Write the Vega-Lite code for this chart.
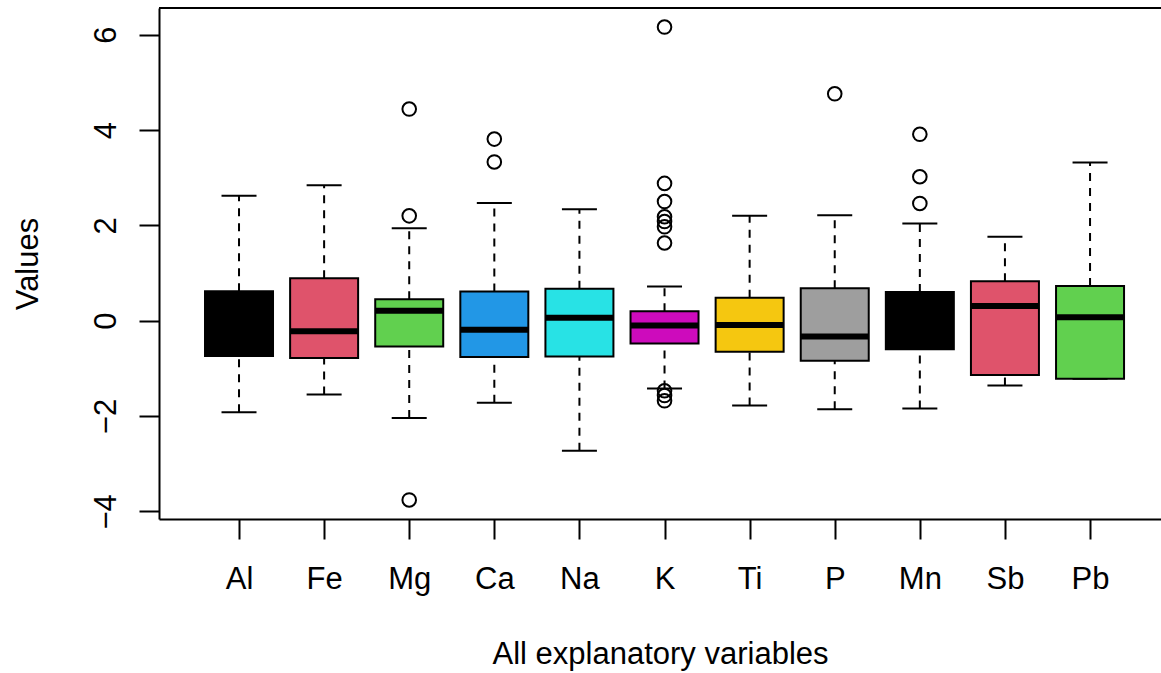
{
  "$schema": "https://vega.github.io/schema/vega-lite/v6.json",
  "autosize": "none",
  "width": 1002,
  "height": 511,
  "padding": {"left": 159, "top": 8, "right": 0, "bottom": 154},
  "background": "white",
  "config": {
    "view": {"stroke": null},
    "font": "Liberation Sans",
    "axis": {
      "labelFont": "Liberation Sans",
      "titleFont": "Liberation Sans",
      "labelFontSize": 31,
      "titleFontSize": 31,
      "titleFontWeight": "normal",
      "labelColor": "black",
      "titleColor": "black",
      "domainColor": "black",
      "tickColor": "black",
      "domainWidth": 2,
      "tickWidth": 2,
      "tickSize": 20,
      "grid": false,
      "labelFlush": false,
      "labelOverlap": false
    }
  },
  "datasets": {
    "stats": [
      {"var": "Al", "lower": -1.92, "q1": -0.74, "median": -0.05, "q3": 0.62, "upper": 2.62},
      {"var": "Fe", "lower": -1.55, "q1": -0.78, "median": -0.22, "q3": 0.89, "upper": 2.84},
      {"var": "Mg", "lower": -2.04, "q1": -0.54, "median": 0.21, "q3": 0.45, "upper": 1.94},
      {"var": "Ca", "lower": -1.72, "q1": -0.76, "median": -0.19, "q3": 0.61, "upper": 2.47},
      {"var": "Na", "lower": -2.73, "q1": -0.75, "median": 0.06, "q3": 0.67, "upper": 2.34},
      {"var": "K", "lower": -1.42, "q1": -0.48, "median": -0.10, "q3": 0.20, "upper": 0.72},
      {"var": "Ti", "lower": -1.78, "q1": -0.65, "median": -0.09, "q3": 0.48, "upper": 2.20},
      {"var": "P", "lower": -1.86, "q1": -0.84, "median": -0.33, "q3": 0.68, "upper": 2.21},
      {"var": "Mn", "lower": -1.84, "q1": -0.60, "median": 0.00, "q3": 0.60, "upper": 2.04},
      {"var": "Sb", "lower": -1.36, "q1": -1.14, "median": 0.31, "q3": 0.83, "upper": 1.76},
      {"var": "Pb", "lower": -1.22, "q1": -1.22, "median": 0.07, "q3": 0.73, "upper": 3.32}
    ],
    "outliers": [
      {"var": "Mg", "value": 4.44},
      {"var": "Mg", "value": 2.20},
      {"var": "Mg", "value": -3.76},
      {"var": "Ca", "value": 3.81},
      {"var": "Ca", "value": 3.33},
      {"var": "K", "value": 6.16},
      {"var": "K", "value": 2.88},
      {"var": "K", "value": 2.50},
      {"var": "K", "value": 2.18},
      {"var": "K", "value": 2.08},
      {"var": "K", "value": 1.97},
      {"var": "K", "value": 1.63},
      {"var": "K", "value": -1.47},
      {"var": "K", "value": -1.57},
      {"var": "K", "value": -1.68},
      {"var": "P", "value": 4.76},
      {"var": "Mn", "value": 3.91},
      {"var": "Mn", "value": 3.02},
      {"var": "Mn", "value": 2.46}
    ]
  },
  "encoding": {
    "x": {
      "field": "var",
      "type": "nominal",
      "scale": {
        "type": "point",
        "domain": ["Al", "Fe", "Mg", "Ca", "Na", "K", "Ti", "P", "Mn", "Sb", "Pb"],
        "padding": 0.887,
        "align": 0.53
      },
      "axis": {
        "title": "All explanatory variables",
        "labelAngle": 0,
        "labelPadding": 25,
        "labelBaseline": "top",
        "titleBaseline": "alphabetic",
        "titleY": 144
      }
    }
  },
  "layer": [
    {
      "data": {"name": "stats"},
      "mark": {"type": "rule", "color": "black", "strokeWidth": 2, "strokeDash": [8, 7]},
      "encoding": {
        "y": {
          "field": "lower",
          "type": "quantitative",
          "scale": {"domain": [-4.16, 6.56], "nice": false, "zero": false},
          "axis": {
            "title": "Values",
            "values": [-4, -2, 0, 2, 4, 6],
            "labelAngle": -90,
            "labelAlign": "center",
            "labelBaseline": "alphabetic",
            "labelPadding": 24,
            "titleAngle": -90,
            "titleBaseline": "alphabetic",
            "titleX": -122
          }
        },
        "y2": {"field": "q1"}
      }
    },
    {
      "data": {"name": "stats"},
      "mark": {"type": "rule", "color": "black", "strokeWidth": 2, "strokeDash": [8, 7]},
      "encoding": {
        "y": {"field": "q3", "type": "quantitative"},
        "y2": {"field": "upper"}
      }
    },
    {
      "data": {"name": "stats"},
      "mark": {"type": "tick", "orient": "horizontal", "color": "black", "size": 35, "thickness": 2, "opacity": 1},
      "encoding": {"y": {"field": "lower", "type": "quantitative"}}
    },
    {
      "data": {"name": "stats"},
      "mark": {"type": "tick", "orient": "horizontal", "color": "black", "size": 35, "thickness": 2, "opacity": 1},
      "encoding": {"y": {"field": "upper", "type": "quantitative"}}
    },
    {
      "data": {"name": "stats"},
      "mark": {"type": "bar", "orient": "vertical", "width": 68, "stroke": "black", "strokeWidth": 2, "opacity": 1},
      "encoding": {
        "y": {"field": "q1", "type": "quantitative"},
        "y2": {"field": "q3"},
        "color": {
          "field": "var",
          "type": "nominal",
          "scale": {
            "domain": ["Al", "Fe", "Mg", "Ca", "Na", "K", "Ti", "P", "Mn", "Sb", "Pb"],
            "range": ["#000000", "#DF536B", "#61D04F", "#2297E6", "#28E2E5", "#CD0BBC", "#F5C710", "#9E9E9E", "#000000", "#DF536B", "#61D04F"]
          },
          "legend": null
        }
      }
    },
    {
      "data": {"name": "stats"},
      "mark": {"type": "tick", "orient": "horizontal", "color": "black", "size": 68, "thickness": 6, "opacity": 1},
      "encoding": {"y": {"field": "median", "type": "quantitative"}}
    },
    {
      "data": {"name": "outliers"},
      "mark": {"type": "point", "shape": "circle", "filled": false, "stroke": "black", "strokeWidth": 2, "size": 185, "opacity": 1},
      "encoding": {"y": {"field": "value", "type": "quantitative"}}
    },
    {
      "data": {"values": [{}]},
      "mark": {"type": "rule", "color": "black", "strokeWidth": 2},
      "encoding": {"y": {"datum": 6.56, "type": "quantitative"}, "x": {"value": 0}, "x2": {"value": 1002}}
    }
  ]
}
